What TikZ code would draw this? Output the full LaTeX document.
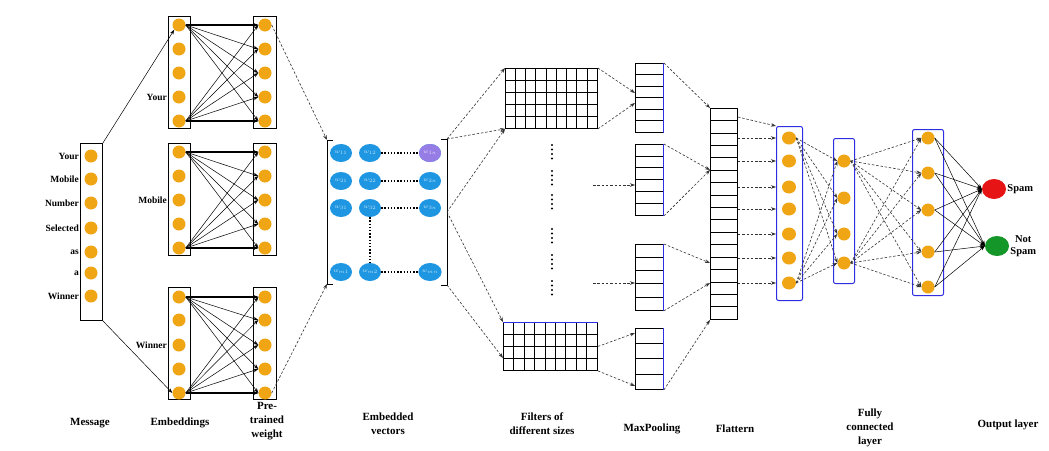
\documentclass[tikz,border=0pt]{standalone}
\usepackage{fontspec}
\setmainfont{Liberation Serif}
\usetikzlibrary{arrows.meta,shapes.geometric,calc}
\definecolor{orng}{RGB}{240,165,20}
\definecolor{vblue}{RGB}{30,150,225}
\definecolor{vpurp}{RGB}{150,125,230}
\definecolor{bbox}{RGB}{45,45,225}
\definecolor{spamred}{RGB}{230,20,20}
\definecolor{spamgreen}{RGB}{20,150,40}
\begin{document}
\begin{tikzpicture}[x=1pt,y=-1pt,
 oc/.style={ellipse, fill=orng, minimum width=13pt, minimum height=13pt, inner sep=0pt},
 colbox/.style={draw=black, line width=0.9pt, inner sep=0pt, anchor=north west},
 bcol/.style={draw=bbox, line width=1pt, rounded corners=2pt, inner sep=0pt, anchor=north west},
 sarr/.style={-{Stealth[length=5pt,width=3.5pt]}, line width=0.5pt},
 darr/.style={-{Stealth[length=5pt,width=3.5pt]}, line width=0.6pt, dash pattern=on 2.5pt off 1.8pt, black!80},
 lab/.style={font=\fontsize{11}{14}\selectfont\bfseries, align=center},
 wlab/.style={font=\fontsize{9.5}{10}\selectfont\bfseries, anchor=east, inner sep=1pt},
 ve/.style={ellipse, fill=vblue, minimum width=22pt, minimum height=18pt, inner sep=0pt, text=white!75!vblue, font=\fontsize{6}{6}\selectfont},
 gridl/.style={draw=black, line width=0.5pt},
 dotl/.style={line width=1.4pt, dash pattern=on 1.4pt off 1.8pt},
]
\useasboundingbox (0,0) rectangle (1049,450);
\fill[white] (0,0) rectangle (1049,450);

% ---------------- Message ----------------
\node[colbox, minimum width=22pt, minimum height=177pt] (msg) at (80,143) {};
\foreach \y [count=\i] in {156,179,203,228,252,273,296}
  \node[oc] (m\i) at (91,\y) {};
\foreach \t/\i in {Your/1,Mobile/2,Number/3,Selected/4,as/5,a/6,Winner/7}
  \node[wlab] (ml\i) at (msg.west |- m\i) {\t};

% ---------------- Embeddings & pre-trained ----------------
\def\ysA{25,49,73,97,121}
\def\ysB{152,176,200,224,248}
\def\ysC{297,320,345,369,393}
\foreach \g/\top in {A/16,B/143,C/287} {
  \node[colbox, minimum width=22pt, minimum height=112pt] (e\g) at (168,\top) {};
  \node[colbox, minimum width=23pt, minimum height=112pt] (p\g) at (253,\top) {};
}
\foreach \y [count=\i] in \ysA { \node[oc] (eA\i) at (179,\y) {}; \node[oc] (pA\i) at (265,\y) {}; }
\foreach \y [count=\i] in \ysB { \node[oc] (eB\i) at (179,\y) {}; \node[oc] (pB\i) at (265,\y) {}; }
\foreach \y [count=\i] in \ysC { \node[oc] (eC\i) at (179,\y) {}; \node[oc] (pC\i) at (265,\y) {}; }
\foreach \g in {A,B,C} {
  \foreach \s in {1,5} {
    \foreach \t in {1,...,5} {
      \draw[sarr] (e\g\s.east) -- (p\g\t.west);
    }
  }
  \draw[sarr, line width=1.1pt] (e\g1.east) -- (p\g1.west);
  \draw[sarr, line width=1.1pt] (e\g5.east) -- (p\g5.west);
}
\node[wlab] (lY) at (eA.west |- eA4) {Your};
\node[wlab] (lM) at (eB.west |- eB3) {Mobile};
\node[wlab] (lW) at (eC.west |- eC3) {Winner};

\draw[sarr] (msg.north east) -- (eA1.south west);
\draw[sarr] (msg.south east) -- (eC5.west);

% ---------------- Embedded vectors ----------------
\coordinate (bl1) at (327,140);
\coordinate (bl2) at (327,284);
\coordinate (br1) at (447,139);
\coordinate (br2) at (447,212);
\coordinate (br3) at (447,285);
\draw[line width=0.9pt] ($(bl1)+(6,0)$) -- (bl1) -- (bl2) -- ($(bl2)+(6,0)$);
\draw[line width=0.9pt] ($(br1)+(-6,0)$) -- (br1) -- (br3) -- ($(br3)+(-6,0)$);
\draw[darr] (pA1.east) -- (bl1);
\draw[darr] (pC5.east) -- (bl2);

\foreach \r/\y/\ri in {1/153/1,2/181/2,3/208/3,4/272/m} {
  \node[ve] (v\r1) at (341,\y) {$w_{\ri 1}$};
  \node[ve] (v\r2) at (370,\y) {$w_{\ri 2}$};
  \node[ve] (v\r3) at (430,\y) {$w_{\ri n}$};
  \draw[dotl] (v\r2.east) -- (v\r3.west);
}
\node[ve, fill=vpurp, text=white!75!vpurp] (v13p) at (430,153) {$w_{1n}$};
\draw[dotl] (v32.south) -- (v42.north);

% ---------------- Filters ----------------
\node[colbox, minimum width=92pt, minimum height=60pt] (f1) at (505,68) {};
\foreach \k in {1,...,8} \draw[gridl] ($(f1.north west)+(\k*92/9,0)$) -- ($(f1.south west)+(\k*92/9,0)$);
\foreach \k in {1,...,4} \draw[gridl] ($(f1.north west)+(0,\k*12)$) -- ($(f1.north east)+(0,\k*12)$);
\node[colbox, minimum width=94pt, minimum height=48pt] (f2) at (503,322) {};
\foreach \k in {1,...,8} \draw[gridl] ($(f2.north west)+(\k*94/9,0)$) -- ($(f2.south west)+(\k*94/9,0)$);
\foreach \k in {1,...,3} \draw[gridl] ($(f2.north west)+(0,\k*12)$) -- ($(f2.north east)+(0,\k*12)$);
\draw[draw=bbox, line width=1pt] (f2.north west) -- (f2.north east);

\foreach \s in {145,171,195,229,255,281}
  \foreach \d in {0,4.5,9,13.5}
    \fill[black] (552,\s+\d) circle (1.2pt);

\coordinate (f2in) at (503,358);
\draw[darr] (br1) -- (f1.north west);
\draw[darr] (br1) -- (f1.south west);
\draw[darr] (br2) -- (f1.south west);
\draw[darr] (br2) -- (f2.north west);
\draw[darr] (br3) -- (f2in);

% ---------------- MaxPooling ----------------
\foreach \i/\y/\h/\n in {1/63/69/6, 2/144/71/6, 3/244/66/5, 4/328/61/4} {
  \node[colbox, minimum width=28pt, minimum height=\h pt] (mp\i) at (635,\y) {};
  \pgfmathsetmacro{\last}{\n-1}
  \foreach \k in {1,...,\last}
    \draw[gridl] ($(mp\i.north west)+(0,\k*\h/\n)$) -- ($(mp\i.north east)+(0,\k*\h/\n)$);
  \draw[draw=bbox, line width=1pt] (mp\i.north east) -- (mp\i.south east);
}
\coordinate (dA) at (593,185);
\coordinate (dB) at (593,283);
\draw[darr] (f1.north east) -- ($(mp1.north west)+(0,30)$);
\draw[darr] (f1.south east) -- ($(mp1.north west)+(0,40)$);
\draw[darr] (dA) -- (mp2.west |- dA);
\draw[darr] (dB) -- (mp3.west |- dB);
\draw[darr] (f2.east) -- ($(mp4.north west)+(0,5)$);
\draw[darr] (f2.south east) -- ($(mp4.south west)+(0,-4)$);

% ---------------- Flatten ----------------
\node[colbox, minimum width=27pt, minimum height=211pt] (flat) at (710,108) {};
\foreach \k in {1,...,16}
  \draw[gridl] ($(flat.north west)+(0,\k*211/17)$) -- ($(flat.north east)+(0,\k*211/17)$);
\draw[darr] (mp1.north east) -- (flat.north west);
\draw[darr] (mp2.north east) -- ($(flat.north west)+(0,62)$);
\draw[darr] (mp2.south east) -- ($(flat.north west)+(0,62)$);
\draw[darr] (mp3.north east) -- ($(flat.north west)+(0,155)$);
\draw[darr] (mp3.south east) -- ($(flat.north west)+(0,175)$);
\draw[darr] (mp4.south east) -- (flat.south west);

% ---------------- Fully connected ----------------
\node[bcol, minimum width=26pt, minimum height=174pt] (fc1) at (776,126) {};
\foreach \y [count=\i] in {138,161,187,209,234,258,283}
  \node[oc, minimum width=14pt] (c\i) at (789,\y) {};
\draw[darr] ($(flat.north east)+(0,9)$) -- (fc1.north west);
\foreach \i in {1,...,7}
  \draw[darr] (flat.east |- c\i) -- (fc1.west |- c\i);

\node[bcol, minimum width=21pt, minimum height=145pt] (fc2) at (833,138) {};
\foreach \y [count=\i] in {161,198,234,263}
  \node[oc] (d\i) at (844,\y) {};
\foreach \s in {1,7}
  \foreach \t in {1,...,4}
    \draw[darr] (c\s.east) -- (d\t.west);

\node[bcol, minimum width=31pt, minimum height=166pt] (fc3) at (912,129) {};
\foreach \y [count=\i] in {138,173,210,252,287}
  \node[oc] (g\i) at (928,\y) {};
\foreach \s in {1,4}
  \foreach \t in {1,...,5}
    \draw[darr] (d\s.east) -- (g\t.west);

% ---------------- Output ----------------
\node[ellipse, fill=spamred, minimum width=24pt, minimum height=20pt, inner sep=0pt] (spam) at (994,189) {};
\node[ellipse, fill=spamgreen, minimum width=24pt, minimum height=20pt, inner sep=0pt] (ns) at (997,246) {};
\foreach \t in {1,...,5} {
  \draw[sarr] (g\t.east) -- (spam.west);
  \draw[sarr] (g\t.east) -- (ns.west);
}
\node[font=\fontsize{10.5}{12}\selectfont\bfseries, anchor=west, inner sep=1pt] (lspam) at (spam.east) {Spam};
\node[font=\fontsize{10.5}{12}\selectfont\bfseries, anchor=west, align=center, inner sep=1pt] (lns) at (ns.east) {Not\\Spam};

% ---------------- Bottom labels ----------------
\node[lab] (tMsg) at (90,423) {Message};
\node[lab] (tEmb) at (180,423) {Embeddings};
\node[lab] (tPre) at (267,421) {Pre-\\trained\\weight};
\node[lab] (tVec) at (388,424) {Embedded\\vectors};
\node[lab] (tFil) at (542,424) {Filters of\\different sizes};
\node[lab] (tMax) at (652,429) {MaxPooling};
\node[lab] (tFla) at (735,429) {Flattern};
\node[lab] (tFC) at (870,428) {Fully\\connected\\layer};
\node[lab] (tOut) at (1008,425) {Output layer};
\end{tikzpicture}
\end{document}
